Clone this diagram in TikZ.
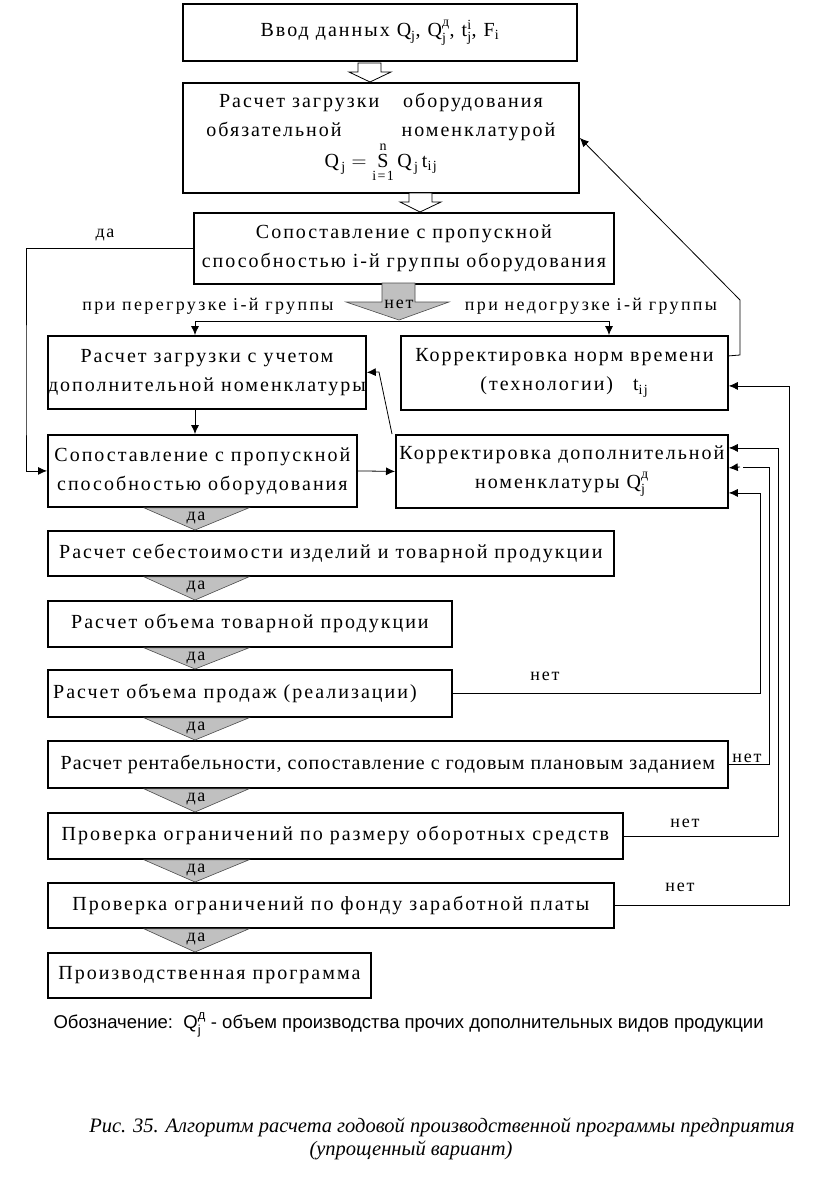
\documentclass[tikz,border=0pt]{standalone}
\usepackage{amsmath}
\usepackage{fontspec}
\setmainfont{Liberation Serif}
\newfontfamily\boxfont[LetterSpace=10]{Liberation Serif}
\newfontfamily\notefont{Liberation Sans}
\usetikzlibrary{arrows.meta}
\usetikzlibrary{calc}
\definecolor{ArrowGray}{HTML}{C0C0C0}
\newcommand{\Qd}{\ensuremath{\text{Q}^{\text{д}}_{\text{j}}}}
\newcommand{\Qj}{\ensuremath{\text{Q}_{\text{j}}}}

\tikzset{
  block/.style={draw, line width=1.8pt, anchor=north west, inner sep=0pt,
    align=center, font=\boxfont\fontsize{20}{29}\selectfont},
  arr/.style={-{Latex[length=9pt,width=8pt]}, line width=0.8pt},
  link/.style={line width=0.8pt},
  yes/.style={fill=ArrowGray, draw=gray!60!black, line width=0.6pt},
  lbl/.style={font=\boxfont\fontsize{18}{20}\selectfont, inner sep=1pt},
}

\begin{document}
\begin{tikzpicture}[x=1pt,y=-1pt]
      \useasboundingbox (0,0) rectangle (816,1186);

      % blocks
      \node[block, minimum width=394pt, minimum height=57pt] (in) at (182,3)
        {Ввод данных \Qj, \Qd, $\text{t}^{\text{i}}_{\text{j}}$, $\text{F}_{\text{i}}$};
      \node[block, minimum width=396pt, minimum height=110pt] (load) at (182,82)
        {Расчет загрузки\hspace{1.2em}оборудования\\
         обязательной\hspace{3em}номенклатурой\\
         $\text{Q}_{\,\text{j}}=\mathop{\text{S}}\limits_{\text{i=1}}^{\text{n}}\text{Q}_{\,\text{j}}\,\text{t}_{\text{ij}}$\hspace{2em}};
      \node[block, minimum width=420pt, minimum height=71pt] (cmpgrp) at (193,212)
        {Сопоставление с пропускной\\ способностью i-й группы оборудования};
      \node[block, minimum width=318pt, minimum height=73pt] (addload) at (47,335)
        {Расчет загрузки с учетом\\ дополнительной номенклатуры};
      \node[block, minimum width=327pt, minimum height=74pt] (fixtime) at (400,335)
        {Корректировка норм времени\\ (технологии)\quad $\text{t}_{\text{ij}}$};
      \node[block, minimum width=309pt, minimum height=72pt] (cmp) at (47,434)
        {Сопоставление с пропускной\\ способностью оборудования};
      \node[block, minimum width=332pt, minimum height=73pt] (fixadd) at (395,434)
        {Корректировка дополнительной\\ номенклатуры \Qd};
      \node[block, minimum width=566pt, minimum height=45pt] (cost) at (47,530)
        {Расчет себестоимости изделий и товарной продукции};
      \node[block, minimum width=404pt, minimum height=46pt] (vol) at (47,600)
        {Расчет объема товарной продукции};
      \node[block, minimum width=404pt, minimum height=47pt] (sales) at (47,669)
        {Расчет объема продаж (реализации)\hspace{1.5em}};
      \node[block, minimum width=680pt, minimum height=47pt] (profit) at (47,740)
        {\addfontfeature{LetterSpace=5}Расчет рентабельности, сопоставление с годовым плановым заданием};
      \node[block, minimum width=575pt, minimum height=46pt] (capital) at (47,812)
        {Проверка ограничений по размеру оборотных средств};
      \node[block, minimum width=566pt, minimum height=45pt] (wages) at (47,882)
        {Проверка ограничений по фонду заработной платы};
      \node[block, minimum width=323pt, minimum height=45pt] (prog) at (47,952)
        {Производственная программа};

      % white block arrows
      \draw[link, fill=white] (358,63) -- (381,63) -- (381,72) -- (391,72)
        -- (370,82) -- (349,72) -- (358,72) -- cycle;
      \draw[link, fill=white] (409,193) -- (432,193) -- (432,202) -- (441,202)
        -- (420,212) -- (400,202) -- (409,202) -- cycle;

      % "net" split
      \draw[yes] (382,283) -- (415,283) -- (415,302) -- (449,302)
        -- (399,320) -- (346,302) -- (382,302) -- cycle;
      \node[lbl] (net0) at (399,304) {нет};
      \node[lbl, font=\boxfont\addfontfeature{LetterSpace=13}\fontsize{18}{20}\selectfont] (over) at (208,306)
        {при перегрузке i-й группы};
      \node[lbl, font=\boxfont\addfontfeature{LetterSpace=13}\fontsize{18}{20}\selectfont] (under) at (591,306)
        {при недогрузке i-й группы};
      \coordinate (splitL) at (195,321);
      \coordinate (splitR) at (609,321);
      \draw[link] (splitL) -- (splitR);
      \draw[arr] (splitL) -- (splitL |- addload.north);
      \draw[arr] (splitR) -- (splitR |- fixtime.north);

      % "da" bypass on the left
      \draw[arr] (cmpgrp.west) -| (26,400) |- (cmp.west);
      \node[lbl] (da0) at (105,235) {да};

      \draw[arr] ($(addload.south west)+(148,0)$) -- ($(cmp.north west)+(148,0)$);
      \draw[arr] (cmp.east) -- (fixadd.west);
      \draw[arr] ([xshift=-3pt]fixadd.north west) -- (379,372) -- (addload.east);
      \draw[arr] ([yshift=17pt]fixtime.east) -- (740,355) -- (740,300) -- (load.east);

      % gray "da" arrows
      \foreach \a/\b in {cmp/cost, cost/vol, vol/sales, sales/profit,
                         profit/capital, capital/wages, wages/prog} {
        \draw[yes] ($(\a.south west)+(97,0)$) -- ($(\a.south west)+(202,0)$)
          -- ($(\b.north west)+(148,0)$) -- cycle;
        \node[lbl] at ($(\a.south west)+(149,10)$) {да};
      }

      % "net" feedback lines
      \draw[arr] (sales.east) -- ++(308,0) |- ([yshift=-21.5pt]fixadd.east);
      \node[lbl] (net1) at (545,676) {нет};
      \draw[link] (profit.east) -- ++(41,0) |- (743,467);
      \draw[arr] (740,467) -- ([yshift=3.5pt]fixadd.east);
      \node[lbl] (net2) at (747,758) {нет};
      \draw[arr] (capital.east) -- ++(155,0) |- ([yshift=23.5pt]fixadd.east);
      \node[lbl] (net3) at (685,823) {нет};
      \draw[arr] (wages.east) -- ++(175,0) |- ([yshift=-13pt]fixtime.east);
      \node[lbl] (net4) at (680,887) {нет};

      % legend and caption
      \node[anchor=west, font=\notefont\fontsize{18.5}{22}\selectfont] (note) at (50,1025)
        {Обозначение:\ \ \Qd\ - объем производства прочих дополнительных видов продукции};
      \node[font=\itshape\fontsize{20.5}{24}\selectfont] (cap1) at (442,1127)
        {Рис. 35. Алгоритм расчета годовой производственной программы предприятия};
      \node[font=\itshape\fontsize{20.5}{24}\selectfont] (cap2) at (411,1150)
        {(упрощенный вариант)};
    \end{tikzpicture}
\end{document}
